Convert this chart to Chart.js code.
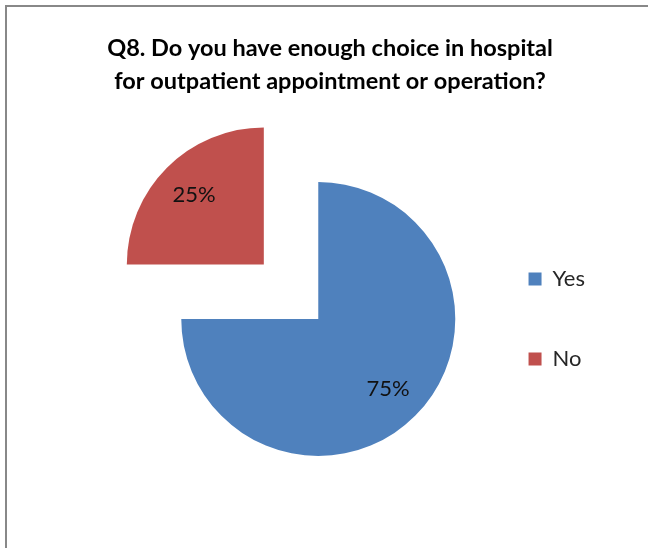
<!DOCTYPE html>
<html>
<head>
<meta charset="utf-8">
<script src="https://cdn.jsdelivr.net/npm/chart.js@4.4.0/dist/chart.umd.min.js"></script>
<style>
  html, body { margin: 0; padding: 0; background: #fff; }
  #wrap { position: relative; width: 648px; height: 548px; overflow: hidden; }
  #frame { position: absolute; left: 5px; top: 5px; right: -10px; bottom: -10px;
           border-left: 2px solid #888; border-top: 2px solid #888; }
  canvas { position: absolute; left: 0; top: 0; }
</style>
</head>
<body>
<div id="wrap">
  <div id="frame"></div>
  <canvas id="chart" width="648" height="548"></canvas>
</div>
<script>
const titleLines = [
  "Q8. Do you have enough choice in hospital",
  "for outpatient appointment or operation?"
];
const categories = ["Yes", "No"];
const shares = [75, 25];
const sliceColors = ["#4F81BD", "#C0504D"];
const sliceOffsets = [0, 308]; // chart.js moves a slice by offset / 4

const FONT = "Lato, 'Open Sans', sans-serif";

// two-line bold heading, centred a little right of the pie like the original
const headingPlugin = {
  id: "heading",
  afterDraw(chart) {
    const ctx = chart.ctx;
    ctx.save();
    ctx.font = "bold 23.5px " + FONT;
    ctx.fillStyle = "#000";
    ctx.textAlign = "center";
    ctx.textBaseline = "middle";
    titleLines.forEach((line, i) => ctx.fillText(line, 330, 48 + i * 33));
    ctx.restore();
  }
};

// percentage labels inside each slice
const pctLabelPlugin = {
  id: "pctLabels",
  afterDatasetsDraw(chart) {
    const meta = chart.getDatasetMeta(0);
    const values = chart.data.datasets[0].data;
    const total = values.reduce((a, b) => a + b, 0);
    const ctx = chart.ctx;
    ctx.save();
    ctx.font = "22px " + FONT;
    ctx.fillStyle = "#111";
    ctx.textAlign = "center";
    ctx.textBaseline = "middle";
    meta.data.forEach((arc, i) => {
      const p = arc.getProps(["x", "y", "startAngle", "endAngle", "outerRadius"], true);
      const mid = (p.startAngle + p.endAngle) / 2;
      const shift = (arc.options.offset || 0) / 4;
      const r = p.outerRadius * 0.72 + shift;
      const label = Math.round(values[i] / total * 100) + "%";
      ctx.fillText(label, p.x + Math.cos(mid) * r, p.y + Math.sin(mid) * r);
    });
    ctx.restore();
  }
};

new Chart(document.getElementById("chart"), {
  type: "pie",
  data: {
    labels: categories,
    datasets: [{
      data: shares,
      backgroundColor: sliceColors,
      borderWidth: 0,
      offset: sliceOffsets,
      hoverOffset: 0
    }]
  },
  options: {
    responsive: false,
    animation: false,
    radius: 137,
    cutout: "0%", // string form, so a big offset can't turn it into NaN
    layout: { padding: { left: 166, right: 53, top: 114, bottom: 24 } },
    plugins: {
      title: { display: false },
      tooltip: { enabled: false },
      legend: {
        position: "right",
        labels: {
          boxWidth: 13,
          boxHeight: 13,
          padding: 58,
          color: "#262626",
          font: { family: FONT, size: 22 }
        }
      }
    }
  },
  plugins: [headingPlugin, pctLabelPlugin]
});
</script>
</body>
</html>
